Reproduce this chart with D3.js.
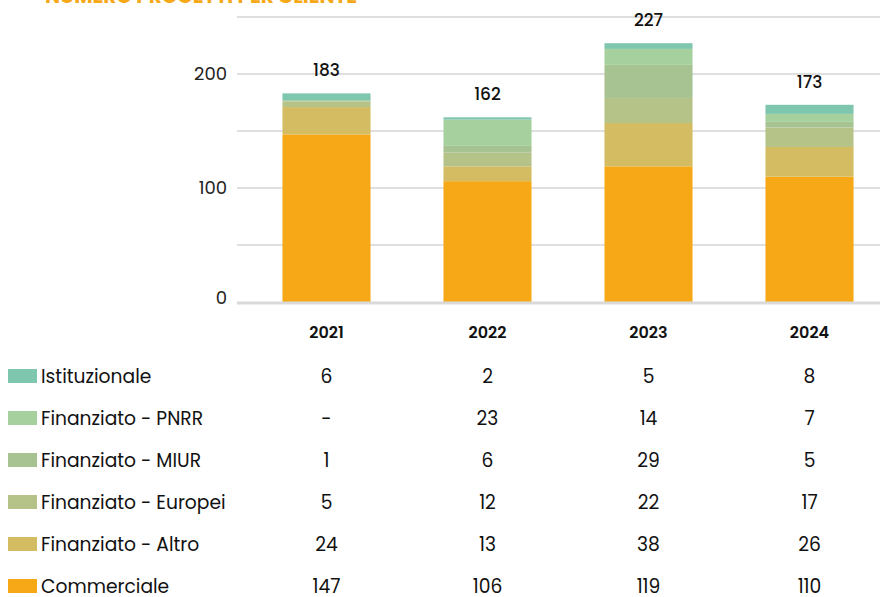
<!DOCTYPE html>
<html>
<head>
<meta charset="utf-8">
<script src="https://cdn.jsdelivr.net/npm/d3@7"></script>
<style>
  body { margin: 0; background: #fff; }
  text { font-family: "Poppins", "Open Sans", sans-serif; }
</style>
</head>
<body>
<div id="chart"></div>
<script>
// data
var years = ["2021", "2022", "2023", "2024"];
var seriesNames = ["Istituzionale", "Finanziato - PNRR", "Finanziato - MIUR", "Finanziato - Europei", "Finanziato - Altro", "Commerciale"];
var seriesColors = ["#7fc6ae", "#a6d09e", "#a8c392", "#b5c389", "#d4bc62", "#f6a817"];
var istituzionale = [6, 2, 5, 8];
var pnrr = [null, 23, 14, 7];
var miur = [1, 6, 29, 5];
var europei = [5, 12, 22, 17];
var altro = [24, 13, 38, 26];
var commerciale = [147, 106, 119, 110];
var yTicks = [0, 100, 200];

var seriesValues = [istituzionale, pnrr, miur, europei, altro, commerciale];

var width = 880, height = 597;

var svg = d3.select("#chart")
  .append("svg")
    .attr("width", width)
    .attr("height", height);

// cut off title at the top
svg.append("text")
  .attr("x", 45)
  .attr("y", 3)
  .attr("fill", "#f6a817")
  .style("font-size", "20px")
  .style("font-weight", "700")
  .text("NUMERO PROGETTI PER CLIENTE");

var x = d3.scaleBand()
  .domain(years)
  .range([246, 890])
  .paddingInner(0.453)
  .paddingOuter(0.2265);

var y = d3.scaleLinear()
  .domain([0, 250])
  .range([302, 17]);

// gridlines every 50
svg.append("g")
  .selectAll("line")
  .data(d3.range(50, 251, 50))
  .enter()
  .append("line")
    .attr("x1", 237)
    .attr("x2", 880)
    .attr("y1", d => y(d))
    .attr("y2", d => y(d))
    .attr("stroke", "#bfbfbf")
    .attr("stroke-width", 1);

// y tick labels
svg.append("g")
  .selectAll("text")
  .data(yTicks)
  .enter()
  .append("text")
    .attr("x", 227)
    .attr("y", d => d === 0 ? y(d) - 4 : y(d))
    .attr("dy", "0.35em")
    .attr("text-anchor", "end")
    .attr("fill", "#222")
    .style("font-size", "18px")
    .text(d => d);

// stacked bars
var rows = years.map(function(yr, i) {
  var r = { year: yr };
  seriesNames.forEach(function(s, j) { r[s] = seriesValues[j][i] || 0; });
  return r;
});

var stack = d3.stack().keys(seriesNames.slice().reverse());
var stacked = stack(rows);

svg.append("g")
  .selectAll("g")
  .data(stacked)
  .enter()
  .append("g")
    .attr("fill", d => seriesColors[seriesNames.indexOf(d.key)])
  .selectAll("rect")
  .data(d => d)
  .enter()
  .append("rect")
    .attr("x", d => x(d.data.year))
    .attr("width", x.bandwidth())
    .attr("y", d => y(d[1]))
    .attr("height", d => y(d[0]) - y(d[1]));

// baseline
svg.append("line")
  .attr("x1", 237)
  .attr("x2", 880)
  .attr("y1", y(0) + 1)
  .attr("y2", y(0) + 1)
  .attr("stroke", "#d9d9d9")
  .attr("stroke-width", 3);

// totals
svg.append("g")
  .selectAll("text")
  .data(rows)
  .enter()
  .append("text")
    .attr("x", d => x(d.year) + x.bandwidth() / 2)
    .attr("y", function(d) {
      var total = d3.sum(seriesNames, s => d[s]);
      return y(total) - 23;
    })
    .attr("dy", "0.35em")
    .attr("text-anchor", "middle")
    .attr("fill", "#111")
    .style("font-size", "17px")
    .style("font-weight", "500")
    .text(d => d3.sum(seriesNames, s => d[s]));

// x labels
svg.append("g")
  .selectAll("text")
  .data(years)
  .enter()
  .append("text")
    .attr("x", d => x(d) + x.bandwidth() / 2)
    .attr("y", 332)
    .attr("dy", "0.35em")
    .attr("text-anchor", "middle")
    .attr("fill", "#111")
    .style("font-size", "16px")
    .style("font-weight", "600")
    .text(d => d);

// data table
var rowY = d3.scalePoint()
  .domain(seriesNames)
  .range([376, 586]);

var tableRows = svg.append("g")
  .selectAll("g")
  .data(seriesNames)
  .enter()
  .append("g")
    .attr("transform", d => "translate(0," + rowY(d) + ")");

tableRows.append("rect")
  .attr("x", 8)
  .attr("y", -7)
  .attr("width", 29)
  .attr("height", 14)
  .attr("fill", (d, i) => seriesColors[i]);

tableRows.append("text")
  .attr("x", 41)
  .attr("dy", "0.35em")
  .attr("fill", "#111")
  .style("font-size", "18.7px")
  .text(d => d);

tableRows.selectAll("text.val")
  .data((d, i) => seriesValues[i])
  .enter()
  .append("text")
    .attr("class", "val")
    .attr("x", (d, i) => x(years[i]) + x.bandwidth() / 2)
    .attr("dy", "0.35em")
    .attr("text-anchor", "middle")
    .attr("fill", "#111")
    .style("font-size", "18.7px")
    .text(d => d == null ? "-" : d);
</script>
</body>
</html>
